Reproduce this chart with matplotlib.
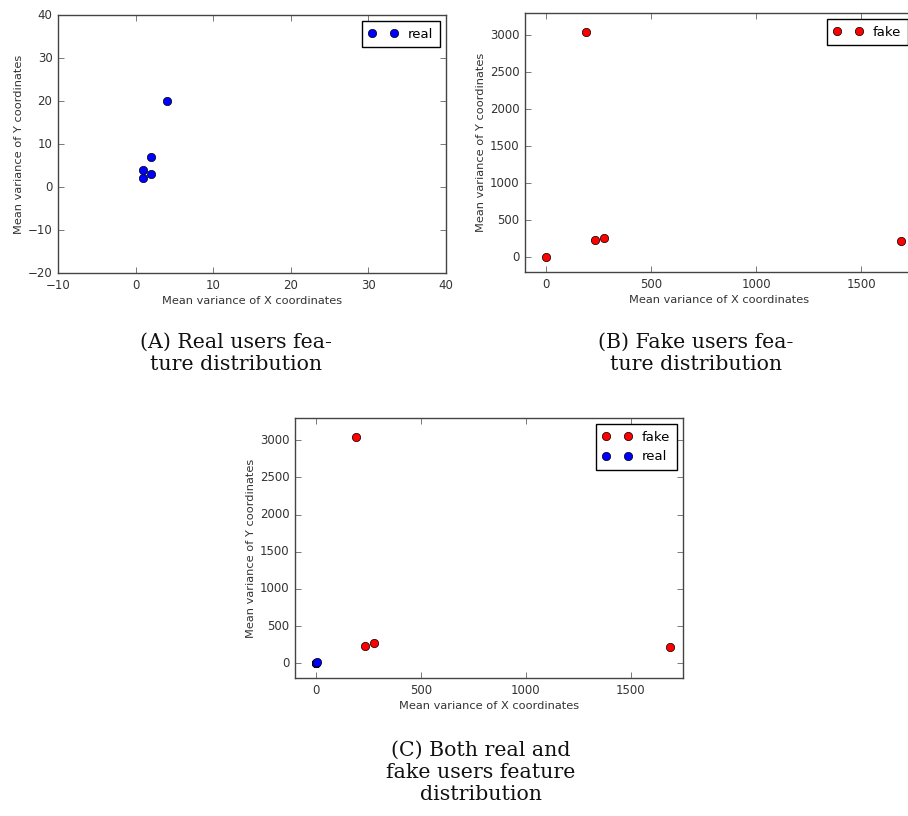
import matplotlib
matplotlib.use("Agg")
import matplotlib.pyplot as plt

plt.style.use("classic")
plt.rcParams["font.family"] = ["DejaVu Sans"]
plt.rcParams["figure.facecolor"] = "white"
plt.rcParams["savefig.facecolor"] = "white"

# Data
real_x = [1, 1, 2, 2, 4]
real_y = [4, 2, 7, 3, 20]
fake_x = [0, 190, 235, 275, 1690]
fake_y = [0, 3040, 230, 265, 215]

x_label = "Mean variance of X coordinates"
y_label = "Mean variance of Y coordinates"

captions = [
    "(A) Real users fea-\nture distribution",
    "(B) Fake users fea-\nture distribution",
    "(C) Both real and\nfake users feature\ndistribution",
]

fig = plt.figure(figsize=(9.08, 8.16), dpi=100)

ax_a = fig.add_axes([0.0639, 0.6654, 0.4273, 0.3162])
ax_b = fig.add_axes([0.5782, 0.6667, 0.4284, 0.3174])
ax_c = fig.add_axes([0.3249, 0.1691, 0.4273, 0.3186])


def style_axes(ax):
    ax.set_xlabel(x_label, fontsize=8.2, color="#333333", labelpad=3)
    ax.set_ylabel(y_label, fontsize=8.2, color="#333333", labelpad=3)
    ax.tick_params(labelsize=8.5, labelcolor="#333333", length=4, color="#444444")
    for sp in ax.spines.values():
        sp.set_edgecolor("#444444")


def add_legend(ax):
    ax.legend(loc="upper right", fontsize=9.5, numpoints=2, borderpad=0.5,
              handlelength=2.2, handletextpad=0.8, labelspacing=0.5,
              borderaxespad=0.45)


# (A) real users
ax_a.plot(real_x, real_y, "bo", markersize=6, label="real")
ax_a.set_xlim(-10, 40)
ax_a.set_ylim(-20, 40)
style_axes(ax_a)
add_legend(ax_a)

# (B) fake users
ax_b.plot(fake_x, fake_y, "ro", markersize=6, label="fake")
ax_b.set_xlim(-100, 1750)
ax_b.set_ylim(-200, 3300)
ax_b.set_xticks([0, 500, 1000, 1500])
ax_b.set_yticks([0, 500, 1000, 1500, 2000, 2500, 3000])
style_axes(ax_b)
add_legend(ax_b)

# (C) both
ax_c.plot(fake_x, fake_y, "ro", markersize=6, label="fake")
ax_c.plot(real_x, real_y, "bo", markersize=6, label="real")
ax_c.set_xlim(-100, 1750)
ax_c.set_ylim(-200, 3300)
ax_c.set_xticks([0, 500, 1000, 1500])
ax_c.set_yticks([0, 500, 1000, 1500, 2000, 2500, 3000])
style_axes(ax_c)
add_legend(ax_c)

# captions
cap_font = dict(family="DejaVu Serif", fontsize=14.8, linespacing=1.2,
                ha="center", va="center", color="#111111")
fig.text(236 / 908, 1 - 353 / 816, captions[0], **cap_font)
fig.text(696 / 908, 1 - 353 / 816, captions[1], **cap_font)
fig.text(481 / 908, 1 - 772 / 816, captions[2], **cap_font)

fig.savefig("out.png", dpi=100)
